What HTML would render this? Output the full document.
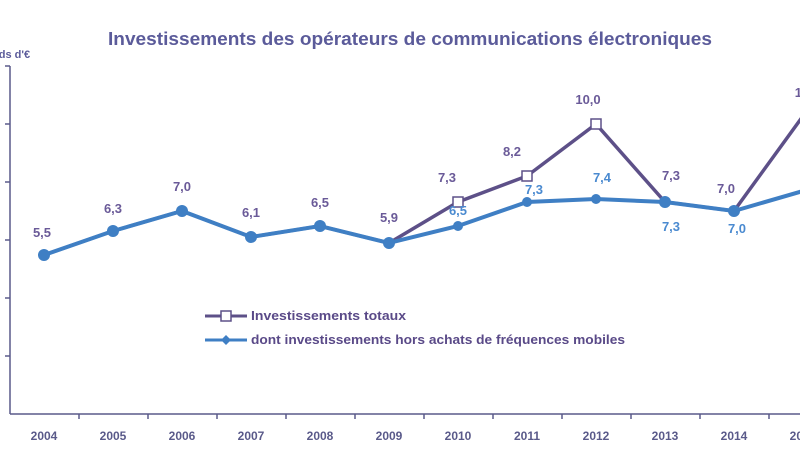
<!DOCTYPE html>
<html><head><style>body{margin:0;background:#fff}</style></head><body>
<svg width="800" height="450" xmlns="http://www.w3.org/2000/svg" font-family="Liberation Sans, sans-serif" font-weight="bold">
<text x="410" y="45" text-anchor="middle" font-size="18.5" fill="#5b5b9a" textLength="604" lengthAdjust="spacingAndGlyphs">Investissements des opérateurs de communications électroniques</text>
<text x="-33" y="58" font-size="11" fill="#5b5b9a">Milliards d'€</text>
<g stroke="#5a5a8a" stroke-width="1.5">
<line x1="10" y1="66" x2="10" y2="414"/><line x1="10" y1="414" x2="800" y2="414"/>
<line x1="5" y1="66" x2="10" y2="66"/><line x1="5" y1="124" x2="10" y2="124"/><line x1="5" y1="182" x2="10" y2="182"/><line x1="5" y1="240" x2="10" y2="240"/><line x1="5" y1="298" x2="10" y2="298"/><line x1="5" y1="356" x2="10" y2="356"/>
<line x1="79" y1="414" x2="79" y2="419"/><line x1="148" y1="414" x2="148" y2="419"/><line x1="217" y1="414" x2="217" y2="419"/><line x1="286" y1="414" x2="286" y2="419"/><line x1="355" y1="414" x2="355" y2="419"/><line x1="424" y1="414" x2="424" y2="419"/><line x1="493" y1="414" x2="493" y2="419"/><line x1="562" y1="414" x2="562" y2="419"/><line x1="631" y1="414" x2="631" y2="419"/><line x1="700" y1="414" x2="700" y2="419"/><line x1="769" y1="414" x2="769" y2="419"/>
</g>
<g font-size="12" fill="#5a5a8a" text-anchor="middle">
<text x="44" y="440">2004</text><text x="113" y="440">2005</text><text x="182" y="440">2006</text><text x="251" y="440">2007</text><text x="320" y="440">2008</text><text x="389" y="440">2009</text><text x="458" y="440">2010</text><text x="527" y="440">2011</text><text x="596" y="440">2012</text><text x="665" y="440">2013</text><text x="734" y="440">2014</text><text x="803" y="440">2015</text>
</g>
<polyline fill="none" stroke="#5d5088" stroke-width="3.5" points="44,255 113,231 182,211 251,237 320,226 389,243 458,202 527,176 596,124 665,202 734,211 803,116"/>
<polyline fill="none" stroke="#3f7fc4" stroke-width="4" points="44,255 113,231 182,211 251,237 320,226 389,243 458,226 527,202 596,199 665,202 734,211 803,191"/>
<g fill="#3f7fc4">
<circle cx="44" cy="255" r="6"/><circle cx="113" cy="231" r="6"/><circle cx="182" cy="211" r="6"/><circle cx="251" cy="237" r="6"/><circle cx="320" cy="226" r="6"/><circle cx="389" cy="243" r="6"/><circle cx="458" cy="226" r="5"/><circle cx="527" cy="202" r="5"/><circle cx="596" cy="199" r="5"/><circle cx="665" cy="202" r="6"/><circle cx="734" cy="211" r="6"/>
</g>
<g fill="#fff" stroke="#5d5088" stroke-width="1.5">
<rect x="453" y="197" width="10" height="10"/><rect x="522" y="171" width="10" height="10"/><rect x="591" y="119" width="10" height="10"/>
</g>
<g font-size="13" fill="#6a5a98" text-anchor="middle">
<text x="42" y="237">5,5</text><text x="113" y="213">6,3</text><text x="182" y="191">7,0</text><text x="251" y="217">6,1</text><text x="320" y="207">6,5</text><text x="389" y="222">5,9</text><text x="447" y="182">7,3</text><text x="512" y="156">8,2</text><text x="588" y="104">10,0</text><text x="671" y="180">7,3</text><text x="726" y="193">7,0</text><text x="802" y="97">10</text>
</g>
<g font-size="13" fill="#4a8ad0" text-anchor="middle">
<text x="458" y="215">6,5</text><text x="534" y="194">7,3</text><text x="602" y="182">7,4</text><text x="671" y="231">7,3</text><text x="737" y="233">7,0</text>
</g>
<line x1="205" y1="316" x2="247" y2="316" stroke="#5d5088" stroke-width="3"/>
<rect x="221" y="311" width="10" height="10" fill="#fff" stroke="#5d5088" stroke-width="1.5"/>
<text x="251" y="320" font-size="13" fill="#5a4a88" textLength="155" lengthAdjust="spacingAndGlyphs">Investissements totaux</text>
<line x1="205" y1="340" x2="247" y2="340" stroke="#3f7fc4" stroke-width="3"/>
<path d="M226,335 l5,5 l-5,5 l-5,-5z" fill="#3f7fc4"/>
<text x="251" y="344" font-size="13" fill="#5a4a88" textLength="374" lengthAdjust="spacingAndGlyphs">dont investissements hors achats de fréquences mobiles</text>
</svg>
</body></html>
